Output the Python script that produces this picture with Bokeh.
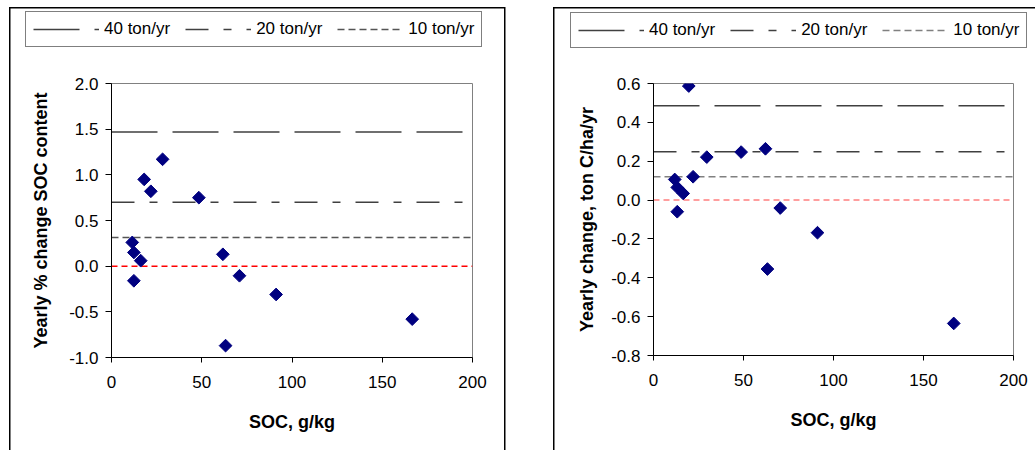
import math
from bokeh.plotting import figure
from bokeh.layouts import row, column
from bokeh.models import FixedTicker, NumeralTickFormatter, Legend, LegendItem
from bokeh.embed import file_html
from bokeh.resources import INLINE

# ---------------- data ----------------
x_ticks = [0, 50, 100, 150, 200]
left_y_ticks = [-1.0, -0.5, 0.0, 0.5, 1.0, 1.5, 2.0]
right_y_ticks = [-0.8, -0.6, -0.4, -0.2, 0.0, 0.2, 0.4, 0.6]

ref_labels = ["40 ton/yr", "20 ton/yr", "10 ton/yr"]

# left panel: yearly % change of SOC content
pct_soc = [11.5, 12.4, 16.2, 12.4, 18.1, 21.8, 28.3, 48.4, 61.7, 63.2, 70.9, 91.2, 166.6]
pct_change = [0.26, 0.15, 0.06, -0.16, 0.95, 0.82, 1.17, 0.75, 0.13, -0.87, -0.105, -0.31, -0.58]
pct_ref = [1.47, 0.70, 0.315]

# right panel: yearly change, ton C/ha/yr
abs_soc = [19.6, 11.8, 13.2, 16.5, 13.2, 22.0, 29.6, 48.7, 62.2, 63.3, 70.4, 91.1, 166.8]
abs_change = [0.587, 0.106, 0.065, 0.034, -0.06, 0.12, 0.221, 0.247, 0.264, -0.355, -0.041, -0.168, -0.635]
abs_ref = [0.485, 0.249, 0.12]

FONT = "Liberation Sans"
TOP_H = 60          # height of the strip holding the legend
FRAME_TOP = 83      # page y of the plot frame's top edge
H = 450
DASHES = ["46 15", "23 15 8 15", "7 4"]


def border_css(left, right, top=None):
    parts = []
    if top is not None:
        parts.append(f"linear-gradient(#000,#000) {left}px {top}px / {right - left}px 1.5px no-repeat")
    y0 = top if top is not None else 0
    parts.append(f"linear-gradient(#000,#000) {left}px {y0}px / 1.5px 600px no-repeat")
    if right is not None and right < 1000:
        parts.append(f"linear-gradient(#000,#000) {right}px {y0}px / 1.5px 600px no-repeat")
    return {"background": ", ".join(parts)}


def make_panel(width, frame_left, frame_w, frame_h, y_ticks, y_label, y_label_standoff,
               xs, ys, refs, ten_color, zero_color, legend_box, box):
    colors = ["#404040", "#404040", ten_color]

    # ---- legend strip ----
    lf = figure(width=width, height=TOP_H, output_backend="svg", toolbar_location=None,
                x_range=(-20, -10), y_range=(-20, -10),
                x_axis_location=None, y_axis_location=None,
                min_border=0, min_border_left=0, min_border_right=0,
                min_border_top=0, min_border_bottom=0,
                frame_align=False,
                styles=border_css(box[0], box[1], top=7))
    lf.xgrid.visible = False
    lf.ygrid.visible = False
    lf.outline_line_color = None
    lf.background_fill_alpha = 0
    lf.border_fill_alpha = 0
    line_x = [x_ticks[0], x_ticks[-1]]
    leg_rends = [lf.line(line_x, [v, v], line_color=c, line_width=1.5, line_dash=d)
                 for v, d, c in zip(refs, DASHES, colors)]
    lx, ltop, lh = legend_box
    legend = Legend(items=[LegendItem(label=lab, renderers=[r]) for lab, r in zip(ref_labels, leg_rends)],
                    orientation="horizontal", location=(lx, TOP_H - (ltop + lh)),
                    padding=7, spacing=15, glyph_width=66, glyph_height=18,
                    label_standoff=5, margin=0,
                    border_line_color="black", border_line_width=1,
                    background_fill_color="white", background_fill_alpha=1,
                    label_text_font=FONT, label_text_font_size="17px",
                    label_text_color="black")
    lf.add_layout(legend)

    # ---- chart ----
    ph = H - TOP_H
    top_border = FRAME_TOP - TOP_H
    p = figure(width=width, height=ph, output_backend="svg", toolbar_location=None,
               x_range=(x_ticks[0], x_ticks[-1]), y_range=(y_ticks[0], y_ticks[-1]),
               frame_width=frame_w, frame_height=frame_h,
               min_border_left=frame_left, min_border_top=top_border,
               min_border_right=width - frame_left - frame_w,
               min_border_bottom=ph - top_border - frame_h,
               frame_align=False,
               styles=border_css(box[0], box[1]))
    p.xgrid.visible = False
    p.ygrid.visible = False
    p.outline_line_color = "#808080"
    p.outline_line_width = 1
    p.background_fill_color = "white"
    p.border_fill_alpha = 0

    for ax in (p.xaxis[0], p.yaxis[0]):
        ax.axis_line_color = "black"
        ax.major_tick_line_color = "black"
        ax.minor_tick_line_color = None
        ax.major_tick_in = 0
        ax.major_label_text_font = FONT
        ax.major_label_text_font_size = "17px"
        ax.major_label_text_color = "black"
        ax.axis_label_text_font = FONT
        ax.axis_label_text_font_size = "18px"
        ax.axis_label_text_font_style = "bold"
        ax.axis_label_text_color = "black"
    p.xaxis.ticker = FixedTicker(ticks=x_ticks)
    p.xaxis.major_tick_out = 5
    p.xaxis.major_label_standoff = 13
    p.xaxis.axis_label = "SOC, g/kg"
    p.xaxis.axis_label_standoff = 21
    p.yaxis.ticker = FixedTicker(ticks=y_ticks)
    p.yaxis.formatter = NumeralTickFormatter(format="0.0")
    p.yaxis.major_tick_out = 6
    p.yaxis.major_label_standoff = 7
    p.yaxis.axis_label = y_label
    p.yaxis.axis_label_standoff = y_label_standoff

    for v, d, c in zip(refs, DASHES, colors):
        p.line(line_x, [v, v], line_color=c, line_width=1.5, line_dash=d)
    p.line(line_x, [0, 0], line_color=zero_color, line_width=1.5, line_dash="6 4")

    p.scatter(xs, ys, marker="square", angle=math.pi / 4, size=9,
              fill_color="#000080", line_color="#000080")

    return column(lf, p, spacing=0)


left = make_panel(540, 111, 361, 274, left_y_ticks, "Yearly % change SOC content", 15,
                  pct_soc, pct_change, pct_ref, "#555555", "#FF0000",
                  (25, 12, 35), (9, 504))
right = make_panel(495, 113, 360, 272, right_y_ticks, "Yearly change, ton C/ha/yr", 11,
                   abs_soc, abs_change, abs_ref, "#808080", "#FF7F7F",
                   (30, 13, 35), (13, 2000))

layout = row(left, right, spacing=0)
open("out.html", "w").write(file_html(layout, INLINE))
